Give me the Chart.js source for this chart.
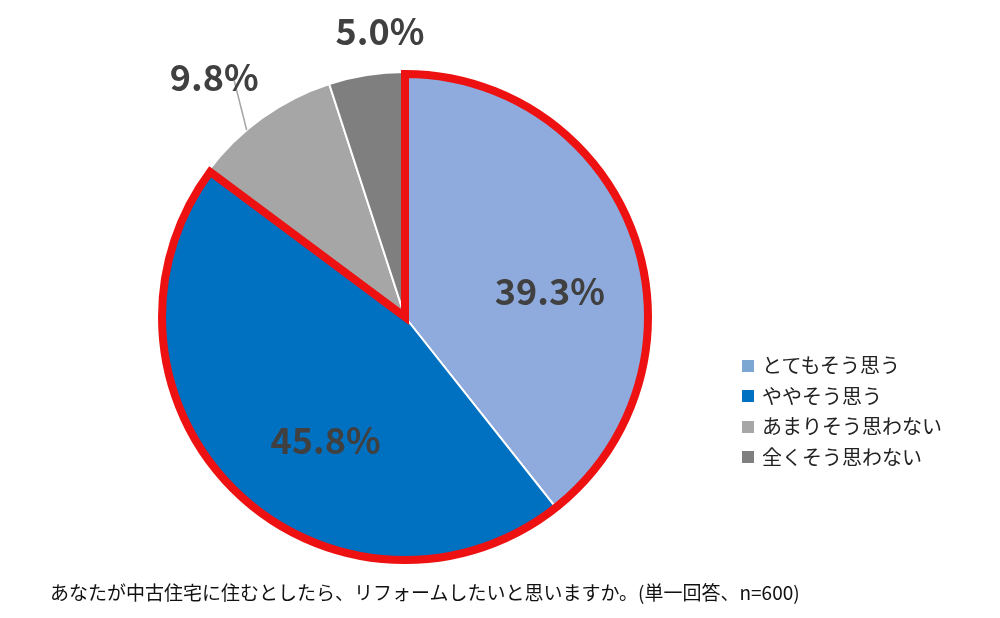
<!DOCTYPE html>
<html><head><meta charset="utf-8">
<script src="https://cdn.jsdelivr.net/npm/chart.js@4"></script>
<style>
body{margin:0;background:#fff;font-family:"Noto Sans CJK JP",sans-serif;}
#wrap{position:relative;width:1000px;height:618px;}
#legend{position:absolute;left:742px;top:350px;font-size:20px;color:#222;line-height:30.5px;}
#legend span.sw{display:inline-block;width:12px;height:12px;margin-right:8px;vertical-align:middle;position:relative;top:-2px;}
#note{position:absolute;left:50px;top:578px;font-size:19px;color:#111;}
</style></head><body>
<div id="wrap"><canvas id="c" width="1000" height="618"></canvas>
<div id="legend"></div>
<div id="note">あなたが中古住宅に住むとしたら、リフォームしたいと思いますか。(単一回答、n=600)</div></div>
<script>
const categories=["とてもそう思う","ややそう思う","あまりそう思わない","全くそう思わない"];
const values=[39.3,45.8,9.8,5.0];
const colors=["#8faadc","#0070c0","#a6a6a6","#7f7f7f"];
const legendColors=["#7ba7d2","#0070c0","#a6a6a6","#7f7f7f"];
const labelText=["39.3%","45.8%","9.8%","5.0%"];
const labelRadius=[0.6,0.6,1.25,1.17];
const labelAngleShift=[0.16,-0.2,-0.05,0.07];

document.getElementById('legend').innerHTML=categories.map((c,i)=>`<div><span class="sw" style="background:${legendColors[i]}"></span>${c}</div>`).join('');

const overlay={id:'overlay',afterDatasetsDraw(chart){
  const ctx=chart.ctx,arcs=chart.getDatasetMeta(0).data;
  const a0=arcs[0],cx=a0.x,cy=a0.y,R=a0.outerRadius;
  // red outline around first two slices
  ctx.save();ctx.beginPath();ctx.moveTo(cx,cy);
  ctx.arc(cx,cy,R-2,arcs[0].startAngle,arcs[1].endAngle);ctx.closePath();
  ctx.strokeStyle='#ee1111';ctx.lineWidth=8;ctx.lineJoin='miter';ctx.stroke();
  // labels
  ctx.font='bold 36px "Noto Sans CJK JP", sans-serif';ctx.fillStyle='#404040';
  ctx.textAlign='center';ctx.textBaseline='middle';
  arcs.forEach((a,i)=>{
    const m=(a.startAngle+a.endAngle)/2+labelAngleShift[i];
    const x=cx+Math.cos(m)*R*labelRadius[i],y=cy+Math.sin(m)*R*labelRadius[i];
    if(i===2){
      const mm=(a.startAngle+a.endAngle)/2;
      ctx.beginPath();ctx.strokeStyle='#a6a6a6';ctx.lineWidth=1.5;
      ctx.moveTo(x+20,y+3);ctx.lineTo(cx+Math.cos(mm-0.08)*R*1.0,cy+Math.sin(mm-0.08)*R*1.0);ctx.stroke();
    }
    ctx.fillText(labelText[i],x,y);
  });
  ctx.restore();
}};
new Chart(document.getElementById('c'),{type:'pie',
 data:{labels:categories,datasets:[{data:values,backgroundColor:colors,borderColor:'#fff',borderWidth:2}]},
 options:{responsive:false,animation:false,layout:{padding:{top:71,bottom:55,left:0,right:190}},
  plugins:{legend:{display:false},tooltip:{enabled:false}}},
 plugins:[overlay]});
</script></body></html>
